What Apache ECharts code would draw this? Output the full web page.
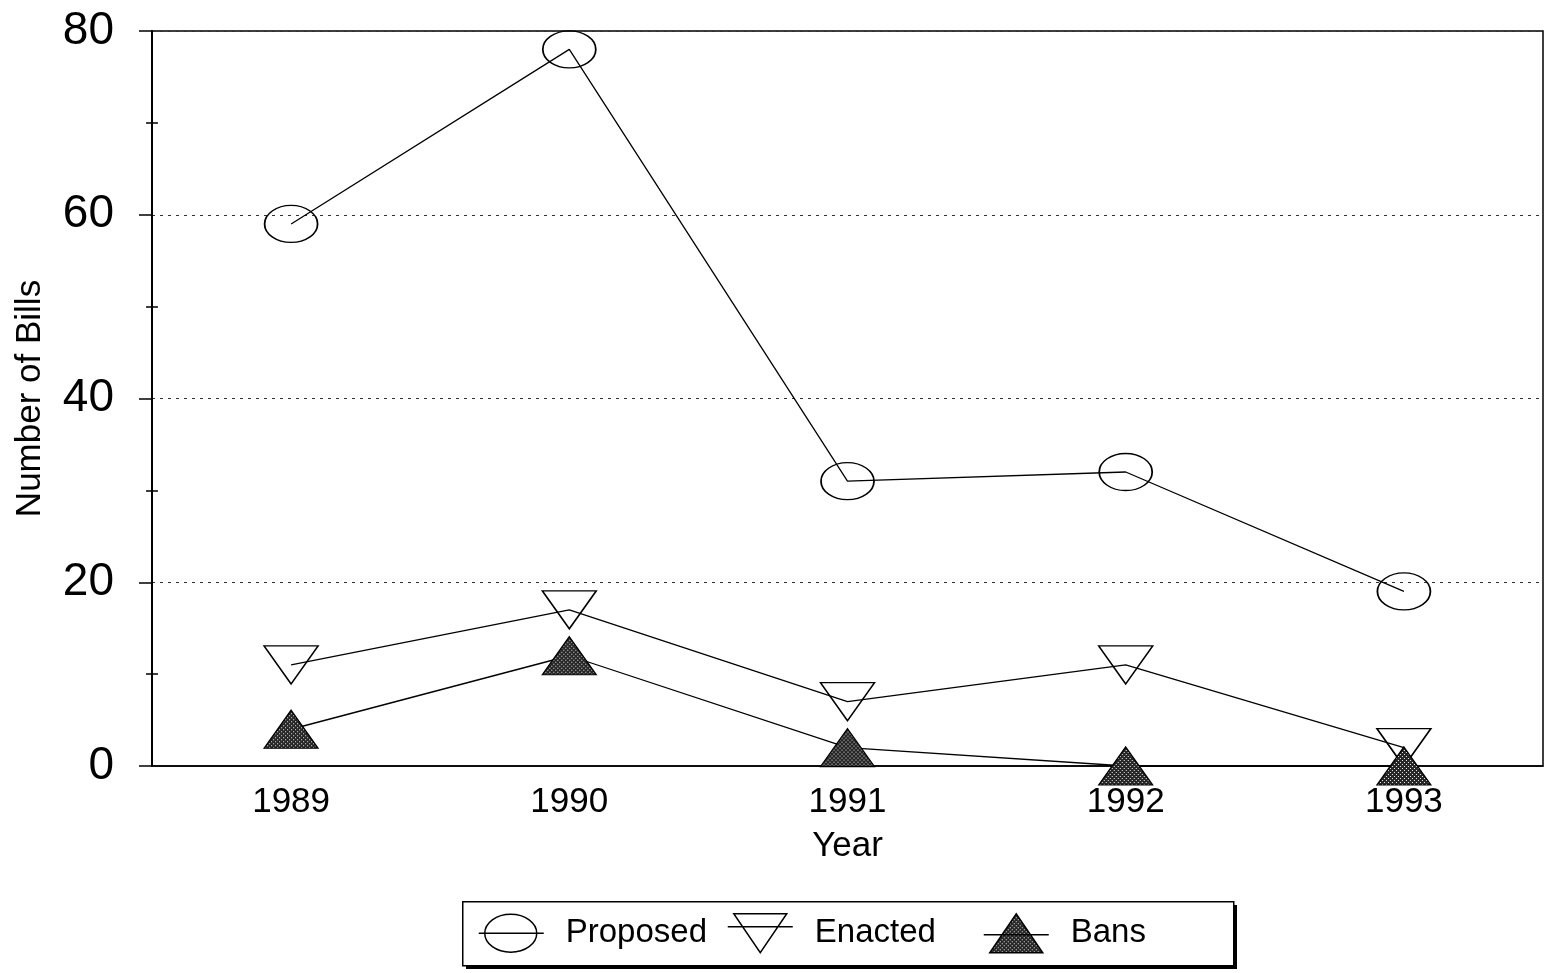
<!DOCTYPE html>
<html>
<head>
<meta charset="utf-8">
<title>Number of Bills by Year</title>
<script src="https://cdn.jsdelivr.net/npm/echarts@6/dist/echarts.min.js"></script>
<style>
  html, body { margin: 0; padding: 0; background: #fff; }
  #chart { width: 1549px; height: 973px; }
</style>
</head>
<body>
<div id="chart"></div>
<script>
// Data
const years = ['1989', '1990', '1991', '1992', '1993'];
const proposed = [59, 78, 31, 32, 19];
const enacted = [11, 17, 7, 11, 2];
const bans = [4, 12, 2, 0, 0];

// Marker sizes (width, height)
const ellipseSize = [53, 37];
const triSize = [54, 38];

// Stippled fill for the "Bans" markers
function stippleCanvas() {
  const c = document.createElement('canvas');
  c.width = 4; c.height = 4;
  const g = c.getContext('2d');
  g.fillStyle = '#262626';
  g.fillRect(0, 0, 4, 4);
  g.fillStyle = '#f0f0f0';
  g.fillRect(0, 0, 1, 1);
  g.fillRect(2, 2, 1, 1);
  return c;
}
const dots = stippleCanvas();
// Series symbols are drawn as unit shapes scaled up, so the pattern is scaled back down
const banFillSymbol = { image: dots, repeat: 'repeat', scaleX: 2 / triSize[0], scaleY: 2 / triSize[1] };
const banFillLegend = { image: dots, repeat: 'repeat' };

const FONT = 'Liberation Sans, Arial, sans-serif';
const clear = 'rgba(0,0,0,0)';

// Legend icons: marker with a line through it
const iconProposed = 'path://M0,19L65,19M6,19A26,19,0,1,1,58,19A26,19,0,1,1,6,19Z';
const iconEnacted = 'path://M0,14L65,14M6,1L59,1L32.5,40Z';
const iconBans = 'path://M0,22L65,22M6,40L59,40L32.5,1Z';

// Legend frame geometry
const LEG_LEFT = 462, LEG_TOP = 901, LEG_W = 771, LEG_H = 64;

const legendCommon = {
  top: LEG_TOP,
  itemGap: 20,
  itemWidth: 65, itemHeight: 40,
  textStyle: { fontFamily: FONT, fontSize: 33, color: '#000', padding: [0, 0, 0, 17] },
  selectedMode: false
};

const chart = echarts.init(document.getElementById('chart'), null, { renderer: 'canvas' });

chart.setOption({
  backgroundColor: '#fff',
  animation: false,
  textStyle: { fontFamily: FONT, color: '#000' },
  grid: {
    left: 152, right: 6, top: 31, bottom: 207,
    show: true, borderColor: '#000', borderWidth: 1.5, backgroundColor: clear
  },
  graphic: [
    {
      // drop shadow behind the legend frame
      type: 'rect', left: LEG_LEFT + 4, top: LEG_TOP + 4, z: -10, silent: true,
      shape: { width: LEG_W, height: LEG_H },
      style: { fill: '#000' }
    },
    {
      type: 'rect', left: LEG_LEFT, top: LEG_TOP, z: -9, silent: true,
      shape: { width: LEG_W, height: LEG_H },
      style: { fill: '#fff', stroke: '#000', lineWidth: 1.5 }
    }
  ],
  legend: [
    Object.assign({}, legendCommon, {
      left: LEG_LEFT, padding: [12, 0, 12, 16],
      data: [
        { name: 'Proposed', icon: iconProposed,
          itemStyle: { color: clear, borderColor: '#000', borderWidth: 1.5 } },
        { name: 'Enacted', icon: iconEnacted,
          itemStyle: { color: clear, borderColor: '#000', borderWidth: 1.5 } }
      ]
    }),
    Object.assign({}, legendCommon, {
      left: 983, padding: [12, 0, 12, 0],
      data: [
        { name: 'Bans', icon: iconBans,
          itemStyle: { color: banFillLegend, borderColor: '#000', borderWidth: 1.5 } }
      ]
    })
  ],
  xAxis: [
    {
      type: 'category', data: years, position: 'bottom', boundaryGap: true,
      axisLine: { lineStyle: { color: '#000', width: 1.5 } },
      axisTick: { alignWithLabel: true, length: 12, lineStyle: { color: '#000', width: 1.5 } },
      axisLabel: { fontFamily: FONT, fontSize: 35, color: '#000', margin: 19 },
      splitLine: { show: false },
      name: 'Year', nameLocation: 'middle', nameGap: 63,
      nameTextStyle: { fontFamily: FONT, fontSize: 35, color: '#000' }
    },
    {
      type: 'category', data: years, position: 'bottom', boundaryGap: true,
      axisLine: { show: false },
      axisTick: { inside: true, alignWithLabel: true, length: 12, lineStyle: { color: '#000', width: 1.5 } },
      axisLabel: { show: false },
      splitLine: { show: false }
    }
  ],
  yAxis: [
    {
      type: 'value', min: 0, max: 80, interval: 20, position: 'left',
      axisLine: { show: true, lineStyle: { color: '#000', width: 2 } },
      axisTick: { show: true, length: 13, lineStyle: { color: '#000', width: 1.5 } },
      minorTick: { show: true, splitNumber: 2, length: 6, lineStyle: { color: '#000', width: 1.5 } },
      axisLabel: { fontFamily: FONT, fontSize: 46, color: '#000', margin: 38 },
      splitLine: { show: true, lineStyle: { color: '#333', width: 1.2, type: [3, 5] } },
      name: 'Number of Bills', nameLocation: 'middle', nameGap: 104,
      nameTextStyle: { fontFamily: FONT, fontSize: 35, color: '#000' }
    },
    {
      type: 'value', min: 0, max: 80, interval: 20, position: 'left',
      axisLine: { show: false },
      axisTick: { show: false, inside: true },
      minorTick: { show: true, splitNumber: 2, length: 6, lineStyle: { color: '#000', width: 1.5 } },
      axisLabel: { show: false },
      splitLine: { show: false }
    }
  ],
  series: [
    {
      name: 'Proposed', type: 'line', data: proposed, clip: false,
      symbol: 'circle', symbolSize: ellipseSize,
      lineStyle: { color: '#000', width: 1.3 },
      itemStyle: { color: clear, borderColor: '#000', borderWidth: 1.5 }
    },
    {
      name: 'Enacted', type: 'line', data: enacted, clip: false,
      symbol: 'triangle', symbolRotate: 180, symbolSize: triSize,
      lineStyle: { color: '#000', width: 1.3 },
      itemStyle: { color: clear, borderColor: '#000', borderWidth: 1.5 }
    },
    {
      name: 'Bans', type: 'line', data: bans, clip: false,
      symbol: 'triangle', symbolSize: triSize,
      lineStyle: { color: '#000', width: 1.3 },
      itemStyle: { color: banFillSymbol, borderColor: '#000', borderWidth: 1.2 }
    }
  ]
});
</script>
</body>
</html>
